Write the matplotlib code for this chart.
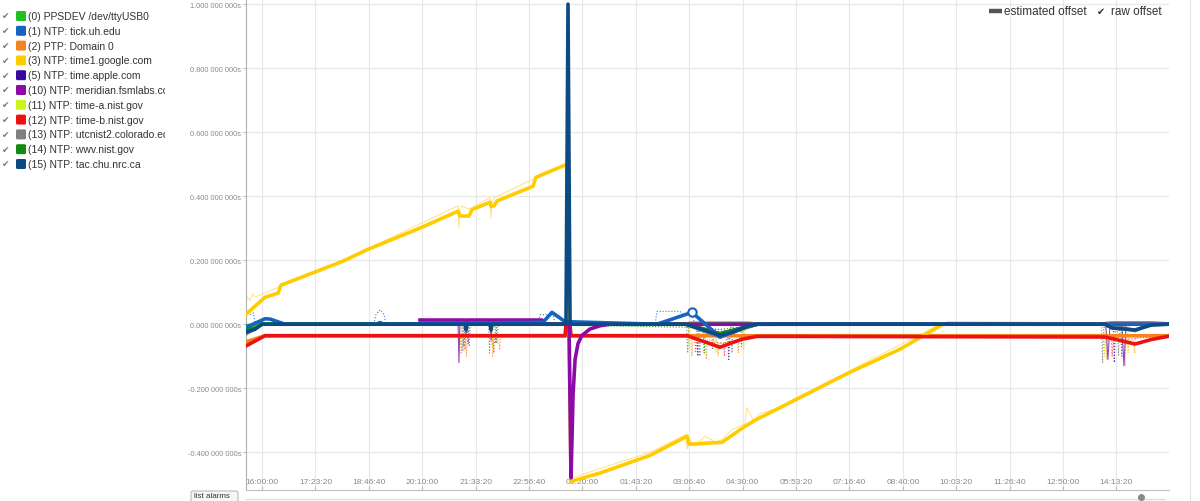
import matplotlib
matplotlib.use("Agg")
import matplotlib.pyplot as plt
from matplotlib.ticker import FuncFormatter
from matplotlib.patches import FancyBboxPatch

plt.rcParams['font.family'] = ['Liberation Sans', 'DejaVu Sans']

# time axis: seconds since 16:00:00, offsets in seconds
x_ticks = [0, 5000, 10000, 15000, 20000, 25000, 30000, 35000, 40000,
           45000, 50000, 55000, 60000, 65000, 70000, 75000, 80000]
x_tick_labels = ["16:00:00", "17:23:20", "18:46:40", "20:10:00", "21:33:20",
                 "22:56:40", "00:20:00", "01:43:20", "03:06:40", "04:30:00",
                 "05:53:20", "07:16:40", "08:40:00", "10:03:20", "11:26:40",
                 "12:50:00", "14:13:20"]
y_ticks = [-0.4, -0.2, 0.0, 0.2, 0.4, 0.6, 0.8, 1.0]

source_names = ["(0) PPSDEV /dev/ttyUSB0", "(1) NTP: tick.uh.edu", "(2) PTP: Domain 0",
                "(3) NTP: time1.google.com", "(5) NTP: time.apple.com",
                "(10) NTP: meridian.fsmlabs.com", "(11) NTP: time-a.nist.gov",
                "(12) NTP: time-b.nist.gov", "(13) NTP: utcnist2.colorado.edu",
                "(14) NTP: wwv.nist.gov", "(15) NTP: tac.chu.nrc.ca"]
source_colors = ["#22c022", "#1565c0", "#f5841f", "#ffcc00", "#3a0a9e", "#8e0aa6",
                 "#ccf51a", "#ee1111", "#808080", "#138a13", "#0b4a82"]

# estimated offsets
est_pps_t = [-1500, 0, 39700, 40070, 45510, 46350, 78460, 79590, 83240, 84830]
est_pps_v = [-0.005, 0.0, 0.0, 0.003, 0.003, 0.0, 0.0, 0.004, 0.004, 0.001]

est_tick_t = [-1500, 280, 750, 2150, 10670, 11050, 11420, 26310, 27150, 28370,
              36980, 40260, 42880, 44940, 46350, 84830]
est_tick_v = [-0.01, 0.017, 0.016, 0.0, 0.0, 0.005, 0.0, 0.006, 0.037, 0.008,
              0.0, 0.037, -0.04, -0.012, 0.0, 0.0]

est_ptp_t = [-1500, 280, 84830]
est_ptp_v = [-0.055, -0.036, -0.036]

est_google_t = [-1500, 280, 1500, 1780, 7580, 9920, 14980, 18350, 18540, 19380, 19660,
                21350, 21440, 21720, 22000, 25370, 25650, 28370, 28560, 28930, 29030,
                31650, 36330, 39790, 39980, 43070, 45220, 46350, 55050, 59740, 63760,
                64230, 84830]
est_google_v = [0.031, 0.084, 0.097, 0.122, 0.197, 0.234, 0.303, 0.353, 0.338, 0.338, 0.358,
                0.381, 0.368, 0.37, 0.385, 0.431, 0.459, 0.497, 0.5, -0.49, -0.49,
                -0.465, -0.41, -0.35, -0.375, -0.369, -0.319, -0.297, -0.15, -0.078, 0.0,
                0.003, 0.0]

est_apple_t = [-1500, 0, 39700, 42880, 46350, 84830]
est_apple_v = [-0.02, 0.0, 0.0, -0.03, 0.0, 0.0]

est_meridian_t = [14790, 19000, 19100, 19200, 21350, 21440, 21530, 26220, 26500, 28740,
                  28930, 29030, 29120, 29310, 29590, 29960, 30710, 31650, 32580, 84830]
est_meridian_v = [0.013, 0.013, -0.005, 0.013, 0.013, -0.005, 0.013, 0.013, 0.0, 0.0,
                  -0.48, -0.35, -0.22, -0.11, -0.06, -0.035, -0.015, -0.005, 0.0, 0.0]

est_timea_t = [-1500, 0, 84830]
est_timea_v = [-0.01, 0.0, 0.0]

est_timeb_t = [-1500, 280, 28370, 28460, 28840, 28930, 39790, 42880, 44100, 44940,
               46350, 78930, 80240, 81740, 83240, 84830]
est_timeb_v = [-0.068, -0.036, -0.036, -0.002, -0.002, -0.036, -0.036, -0.072, -0.057, -0.047,
               -0.038, -0.04, -0.05, -0.062, -0.048, -0.038]

est_utc_t = [-1500, 0, 39700, 42880, 44940, 46350, 78930, 81740, 83240, 84830]
est_utc_v = [-0.03, 0.0, 0.0, -0.04, -0.015, 0.0, 0.0, -0.02, 0.0, 0.0]

est_wwv_t = [-1500, 0, 39700, 42880, 46350, 84830]
est_wwv_v = [-0.015, 0.0, 0.0, -0.03, 0.0, 0.0]

est_tac_t = [-1500, -660, 0, 19000, 19100, 19200, 21350, 21440, 21530, 28460, 28650,
             28840, 39700, 42880, 44100, 45510, 46350, 78930, 79590, 81740, 83240, 84830]
est_tac_v = [-0.025, -0.016, 0.0, 0.0, -0.018, 0.0, 0.0, -0.018, 0.0, 0.0, 1.0,
             0.0, 0.0, -0.035, -0.025, -0.005, 0.0, 0.0, -0.012, -0.018, -0.003, 0.0]

# raw offsets
raw_tick_t = [-1500, -1300, -1120, -800, -660, 0, 10450, 10670, 11050, 11420, 11600,
              25900, 26030, 27250, 27450, 36800, 36980, 39140, 39400, 40260, 40500, 84830]
raw_tick_v = [0.04, 0.04, 0.03, 0.035, 0.005, 0.0, 0.0, 0.03, 0.045, 0.03, 0.0,
              0.0, 0.03, 0.03, 0.0, 0.0, 0.04, 0.04, 0.03, 0.035, 0.0, 0.0]

raw_google_t = [-1500, -1300, -1120, -900, -660, 1500, 7580, 9920, 18350, 18440, 18540,
                18700, 19380, 21350, 21440, 21530, 21720, 25370, 25650, 28370]
raw_google_v = [0.09, 0.08, 0.075, 0.095, 0.085, 0.115, 0.2, 0.236, 0.37, 0.3, 0.36,
                0.37, 0.36, 0.395, 0.33, 0.38, 0.395, 0.453, 0.46, 0.5]
raw_google_b_t = [29030, 36330, 39700, 39800, 40070, 40500, 41500, 42500, 43070, 44000,
                  45220, 45400, 46000, 46600, 48970, 49440, 55050, 63760]
raw_google_b_v = [-0.48, -0.4, -0.345, -0.39, -0.36, -0.38, -0.35, -0.37, -0.36, -0.33,
                  -0.31, -0.26, -0.3, -0.28, -0.255, -0.24, -0.145, 0.005]

raw_meridian_t = [14790, 18350, 18440, 18530, 19000, 19100, 19200, 21350, 21450, 21550,
                  26220, 26500, 78460, 79000, 79200, 79400, 80500, 80700, 80900, 84830]
raw_meridian_v = [0.013, 0.013, -0.12, 0.013, 0.013, -0.04, 0.013, 0.013, -0.05, 0.013,
                  0.013, 0.0, 0.0, 0.0, -0.11, 0.0, 0.0, -0.13, 0.0, 0.0]

raw_utc_t = [-1500, 0, 18700, 18800, 18900, 19300, 19400, 19500, 21200, 21300, 21400,
             21900, 22000, 22100, 39750, 39850, 39950, 40900, 41000, 41100, 42100,
             42200, 42300, 43900, 44000, 44100, 78600, 78700, 78800, 80100, 80200,
             80300, 84830]
raw_utc_v = [-0.03, 0.0, 0.0, -0.085, 0.0, 0.0, -0.07, 0.0, 0.0, -0.09, 0.0,
             0.0, -0.06, 0.0, 0.0, -0.09, -0.01, -0.01, -0.1, -0.02, -0.02,
             -0.08, -0.03, -0.02, -0.09, -0.005, 0.0, -0.12, -0.01, -0.01, -0.1,
             0.0, 0.0]

raw_ptp_t = [-1500, 280, 18600, 18650, 18750, 19050, 19150, 19250, 21500, 21600, 21700,
             22150, 22250, 22350, 40150, 40250, 40350, 41500, 41600, 41700, 42600,
             42700, 42800, 44500, 44600, 44700, 45000, 79000, 79100, 79200, 80700, 80800,
             80900, 81600, 81700, 81800, 84830]
raw_ptp_v = [-0.055, -0.036, -0.036, -0.09, -0.036, -0.036, -0.1, -0.036, -0.036, -0.1, -0.036,
             -0.036, -0.08, -0.036, -0.04, -0.1, -0.04, -0.04, -0.11, -0.05, -0.05,
             -0.1, -0.06, -0.05, -0.09, -0.04, -0.036, -0.036, -0.11, -0.04, -0.04, -0.13,
             -0.05, -0.05, -0.09, -0.04, -0.036]

raw_timeb_t = [-1500, 280, 18950, 19000, 19100, 21600, 21700, 21800, 40500, 40600, 40700,
               43200, 43300, 43400, 43600, 79500, 79600, 79700, 84830]
raw_timeb_v = [-0.068, -0.036, -0.036, -0.08, -0.036, -0.036, -0.09, -0.036, -0.04, -0.085,
               -0.05, -0.06, -0.1, -0.055, -0.036, -0.04, -0.1, -0.05, -0.036]

raw_timea_t = [-1500, 0, 18500, 18600, 18700, 21450, 21550, 21650, 39900, 40000, 40100,
               42400, 42500, 42600, 45000, 45100, 45200, 78800, 78900, 79000, 81000,
               81100, 81200, 84830]
raw_timea_v = [-0.01, 0.0, 0.0, -0.06, 0.0, 0.0, -0.07, 0.0, 0.0, -0.08, -0.01,
               -0.02, -0.09, -0.03, -0.01, -0.08, 0.0, 0.0, -0.1, 0.0, 0.0,
               -0.09, 0.0, 0.0]

raw_apple_t = [-1500, 0, 19200, 19300, 19400, 40700, 40800, 40900, 43600, 43700, 43800,
               44000, 79700, 79800, 79900, 84830]
raw_apple_v = [-0.02, 0.0, 0.0, -0.06, 0.0, 0.0, -0.1, -0.01, -0.02, -0.11, -0.02,
               0.0, 0.0, -0.12, 0.0, 0.0]

raw_wwv_t = [-1500, 0, 18800, 18900, 19000, 21800, 21900, 22000, 41300, 41400, 41500,
             44800, 44900, 45000, 80400, 80500, 80600, 84830]
raw_wwv_v = [-0.015, 0.0, 0.0, -0.07, 0.0, 0.0, -0.06, 0.0, -0.01, -0.09, -0.02,
             -0.01, -0.07, 0.0, 0.0, -0.1, 0.0, 0.0]

W, H = 1200, 502
fig = plt.figure(figsize=(W / 100, H / 100), dpi=100)
fig.patch.set_facecolor("white")

ax = fig.add_axes([246 / W, 1 - 491 / H, (1169 - 246) / W, 491 / H])
ax.set_xlim(-1500, 84920)
ax.set_ylim(-0.518, 1.016)

# raw offsets: thin dotted
raw_lw = 0.8
ax.plot(raw_ptp_t, raw_ptp_v, ls=":", lw=raw_lw, color="#ff9a30", zorder=2)
ax.plot(raw_timea_t, raw_timea_v, ls=":", lw=raw_lw, color="#c8ee10", zorder=2)
ax.plot(raw_apple_t, raw_apple_v, ls=":", lw=raw_lw, color="#5030b0", zorder=2)
ax.plot(raw_utc_t, raw_utc_v, ls=":", lw=raw_lw, color="#909090", zorder=2)
ax.plot(raw_wwv_t, raw_wwv_v, ls=":", lw=raw_lw, color="#2a9a2a", zorder=2)
ax.plot(raw_timeb_t, raw_timeb_v, ls=":", lw=raw_lw, color="#ff5050", zorder=2)
ax.plot(raw_meridian_t, raw_meridian_v, ls="-", lw=raw_lw, color="#a040c0", zorder=2)
ax.plot(raw_tick_t, raw_tick_v, ls=":", lw=raw_lw, color="#3a7fd0", zorder=2)
ax.plot(raw_google_t, raw_google_v, ls="-", lw=0.6, color="#ffd54a", alpha=0.8, zorder=2)
ax.plot(raw_google_b_t, raw_google_b_v, ls="-", lw=0.6, color="#ffd54a", alpha=0.8, zorder=2)

# estimated offsets: thick
est_lw = 2.6
c = source_colors
ax.plot(est_ptp_t, est_ptp_v, lw=est_lw, color=c[2], zorder=3)
ax.plot(est_timea_t, est_timea_v, lw=est_lw, color=c[6], zorder=3)
ax.plot(est_apple_t, est_apple_v, lw=est_lw, color=c[4], zorder=3)
ax.plot(est_utc_t, est_utc_v, lw=est_lw, color=c[8], zorder=3)
ax.plot(est_wwv_t, est_wwv_v, lw=est_lw, color=c[9], zorder=3)
ax.plot(est_pps_t, est_pps_v, lw=est_lw, color=c[0], zorder=3)
ax.plot(est_google_t, est_google_v, lw=est_lw, color=c[3], zorder=3)
ax.plot(est_timeb_t, est_timeb_v, lw=est_lw, color=c[7], zorder=3)
ax.plot(est_meridian_t, est_meridian_v, lw=est_lw, color=c[5], zorder=3)
ax.plot(est_tick_t, est_tick_v, lw=est_lw, color=c[1], zorder=3,
        marker="o", markevery=[11], markersize=6, mfc="white", mec=c[1], mew=1.5)
ax.plot(est_tac_t, est_tac_v, lw=est_lw, color=c[10], zorder=3)


def offset_fmt(v, pos):
    s = f"{abs(v):.9f}"
    ip, fp = s.split(".")
    sign = "-" if v < -1e-9 else ""
    return f"{sign}{ip}.{fp[:3]} {fp[3:6]} {fp[6:]}s"


ax.set_yticks(y_ticks)
ax.yaxis.set_major_formatter(FuncFormatter(offset_fmt))
ax.set_xticks(x_ticks)
ax.set_xticklabels(x_tick_labels)
ax.tick_params(axis="y", labelsize=5.3, labelcolor="#8a8a8a", color="#bbbbbb",
               length=2.5, pad=1)
ax.tick_params(axis="x", labelsize=6.1, labelcolor="#8a8a8a", color="#bbbbbb",
               direction="in", length=3, pad=-8.5)
ax.grid(color="#e8e8e8", lw=0.8, zorder=0)
ax.set_axisbelow(True)
for s in ["top", "right"]:
    ax.spines[s].set_visible(False)
ax.spines["left"].set_color("#b0b0b0")
ax.spines["bottom"].set_color("#c0c0c0")
ax.spines["left"].set_linewidth(0.8)
ax.spines["bottom"].set_linewidth(0.8)

# source list on the left
lg = fig.add_axes([0, 0, 165 / W, 1])
lg.set_xlim(0, 165)
lg.set_ylim(H, 0)
lg.axis("off")
for i, (name, col) in enumerate(zip(source_names, source_colors)):
    y = 17 + i * 14.8
    lg.text(2, y, "\u2714", fontsize=6.5, color="#777777", va="center", clip_on=True)
    lg.add_patch(FancyBboxPatch((16, y - 5), 10, 10,
                                boxstyle="round,pad=0,rounding_size=1.5",
                                fc=col, ec="none"))
    lg.text(28.5, y, name, fontsize=7.5, color="#333333", va="center", clip_on=True)

# overlay: top right legend, page border, bottom controls
ov = fig.add_axes([0, 0, 1, 1])
ov.set_xlim(0, W)
ov.set_ylim(H, 0)
ov.axis("off")
ov.plot([989, 1002], [12, 12], color="#555555", lw=3.2, solid_capstyle="butt")
ov.text(1004, 12, "estimated offset", fontsize=8.5, color="#333333", va="center")
ov.text(1097, 12, "\u2714", fontsize=7, color="#333333", va="center")
ov.text(1111, 12, "raw offset", fontsize=8.5, color="#333333", va="center")
ov.plot([1190, 1190], [0, H], color="#e2e2e2", lw=0.8)
ov.add_patch(FancyBboxPatch((191, 492), 47, 14, boxstyle="round,pad=0,rounding_size=2",
                            fc="#f7f7f7", ec="#bbbbbb", lw=0.8))
ov.text(194, 496.5, "list alarms", fontsize=5.8, color="#333333", va="center")
ov.plot([246, 1165], [500, 500], color="#dddddd", lw=1)
ov.plot([1141], [498], "o", color="#888888", markersize=4)

fig.savefig("out.png", dpi=100)
